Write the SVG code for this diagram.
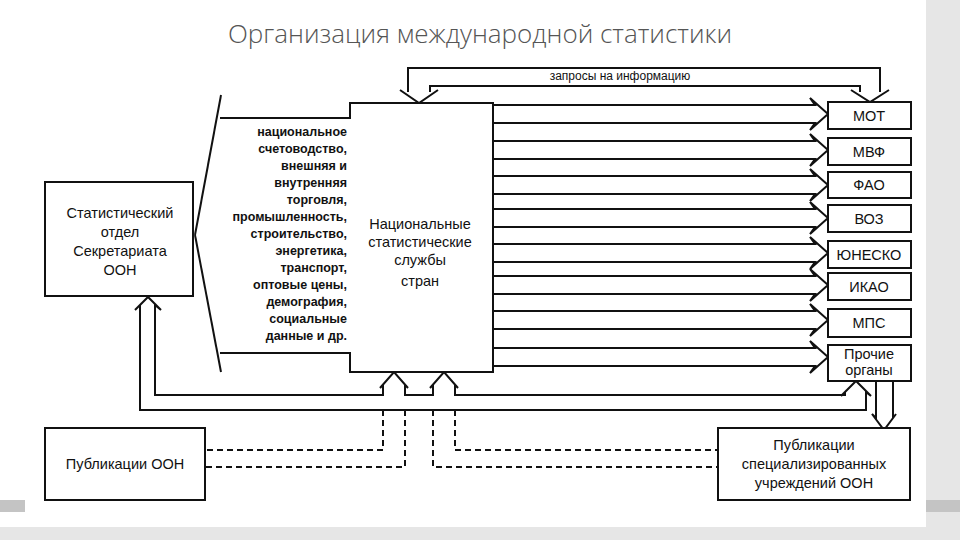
<svg xmlns="http://www.w3.org/2000/svg" width="960" height="540" viewBox="0 0 960 540">
<style>
.l{fill:none;stroke:#111;stroke-width:2}
.b{fill:#fff;stroke:#111;stroke-width:2}
.d{fill:none;stroke:#111;stroke-width:2;stroke-dasharray:6,4}
text{font-family:"Liberation Sans",Arial,sans-serif;fill:#111}
.t{font-size:14.5px;text-anchor:middle}
.s{font-size:12.5px;text-anchor:end;font-weight:bold}
</style>
<rect width="960" height="540" fill="#fff"/>
<rect x="926" y="0" width="34" height="540" fill="#e6e6e6"/>
<rect x="0" y="500" width="960" height="12" fill="#c4c4c4"/>
<rect x="0" y="527" width="960" height="13" fill="#e6e6e6"/>
<rect x="25" y="55" width="901" height="472" fill="#fff"/>
<text x="480" y="43" text-anchor="middle" font-size="26" style="fill:#555;font-family:'Open Sans','Liberation Sans',sans-serif;font-weight:300">Организация международной статистики</text>

<g id="connectors">
<line class="l" x1="195" y1="235" x2="221" y2="95"/>
<line class="l" x1="195" y1="235" x2="221" y2="372"/>
<path class="l" d="M408,92 V68 H880 V92 M430,92 V86 H860 V92 M400,90 L419,103 L438,90 M851,90 L870,102 L889,90"/>
<text x="620" y="80" font-size="12" text-anchor="middle">запросы на информацию</text>
<g class="b">
<path d="M493,105 H815 L810,98 L828,114 L810,130 L815,123 H493 Z"/>
<path d="M493,141 H815 L810,134 L828,150 L810,166 L815,159 H493 Z"/>
<path d="M493,176 H815 L810,169 L828,185 L810,201 L815,194 H493 Z"/>
<path d="M493,209 H815 L810,202 L828,218 L810,234 L815,227 H493 Z"/>
<path d="M493,244 H815 L810,237 L828,253 L810,269 L815,262 H493 Z"/>
<path d="M493,276 H815 L810,269 L828,285 L810,301 L815,294 H493 Z"/>
<path d="M493,311 H815 L810,304 L828,320 L810,336 L815,329 H493 Z"/>
<path d="M493,348 H815 L810,341 L828,357 L810,373 L815,366 H493 Z"/>
</g>
<path class="l" d="M140,410 V305 L135,310 L148,297 L161,310 L155,305 V395 H383 V385 L380,388 L394,372 L408,388 L405,385 V395 H433 V385 L430,388 L444,372 L458,388 L455,385 V395 H845 V392 L841,396 L856,381 L871,396 L866,392 V410 Z"/>
<path class="l" d="M876,381 V418 L872,414 L884,430 L896,414 L893,418 V381"/>
<path class="d" d="M383,410 V450 H205 M405,410 V467 H205 M433,410 V467 H718 M455,410 V450 H718"/>
</g>

<g id="central">
<path class="b" d="M220,118 H350 V103 H493 V372 H350 V353 H220"/>
<g class="s">
<text x="347" y="136">национальное</text>
<text x="347" y="153">счетоводство,</text>
<text x="347" y="170">внешняя и</text>
<text x="347" y="187">внутренняя</text>
<text x="347" y="204">торговля,</text>
<text x="347" y="221">промышленность,</text>
<text x="347" y="238">строительство,</text>
<text x="347" y="255">энергетика,</text>
<text x="347" y="272">транспорт,</text>
<text x="347" y="289">оптовые цены,</text>
<text x="347" y="306">демография,</text>
<text x="347" y="323">социальные</text>
<text x="347" y="340">данные и др.</text>
</g>
<text class="t" x="420" y="229">Национальные</text>
<text class="t" x="420" y="247">статистические</text>
<text class="t" x="420" y="265">службы</text>
<text class="t" x="420" y="286">стран</text>
</g>

<g id="stat"><rect class="b" x="45" y="182" width="148" height="114"/>
<text class="t" x="120" y="218">Статистический</text><text class="t" x="120" y="237">отдел</text><text class="t" x="120" y="256">Секретариата</text><text class="t" x="120" y="275">ООН</text></g>

<g id="mot"><rect class="b" x="828" y="102" width="83" height="27"/><text class="t" x="869" y="121">МОТ</text></g>
<g id="mvf"><rect class="b" x="828" y="138" width="83" height="27"/><text class="t" x="869" y="157">МВФ</text></g>
<g id="fao"><rect class="b" x="828" y="172" width="83" height="26"/><text class="t" x="869" y="190">ФАО</text></g>
<g id="voz"><rect class="b" x="828" y="205" width="83" height="27"/><text class="t" x="869" y="224">ВОЗ</text></g>
<g id="unesco"><rect class="b" x="828" y="241" width="83" height="27"/><text class="t" x="869" y="260">ЮНЕСКО</text></g>
<g id="ikao"><rect class="b" x="828" y="273" width="83" height="27"/><text class="t" x="869" y="292">ИКАО</text></g>
<g id="mps"><rect class="b" x="828" y="309" width="83" height="28"/><text class="t" x="869" y="328">МПС</text></g>
<g id="other"><rect class="b" x="828" y="345" width="83" height="36"/><text class="t" x="869" y="359" font-size="13">Прочие</text><text class="t" x="869" y="375" font-size="13">органы</text></g>

<g id="publ-oon"><rect class="b" x="45" y="428" width="160" height="72"/><text class="t" x="125" y="469">Публикации ООН</text></g>
<g id="publ-spec"><rect class="b" x="718" y="428" width="192" height="72"/>
<text class="t" x="814" y="450">Публикации</text><text class="t" x="814" y="469">специализированных</text><text class="t" x="814" y="488">учреждений ООН</text></g>
</svg>
